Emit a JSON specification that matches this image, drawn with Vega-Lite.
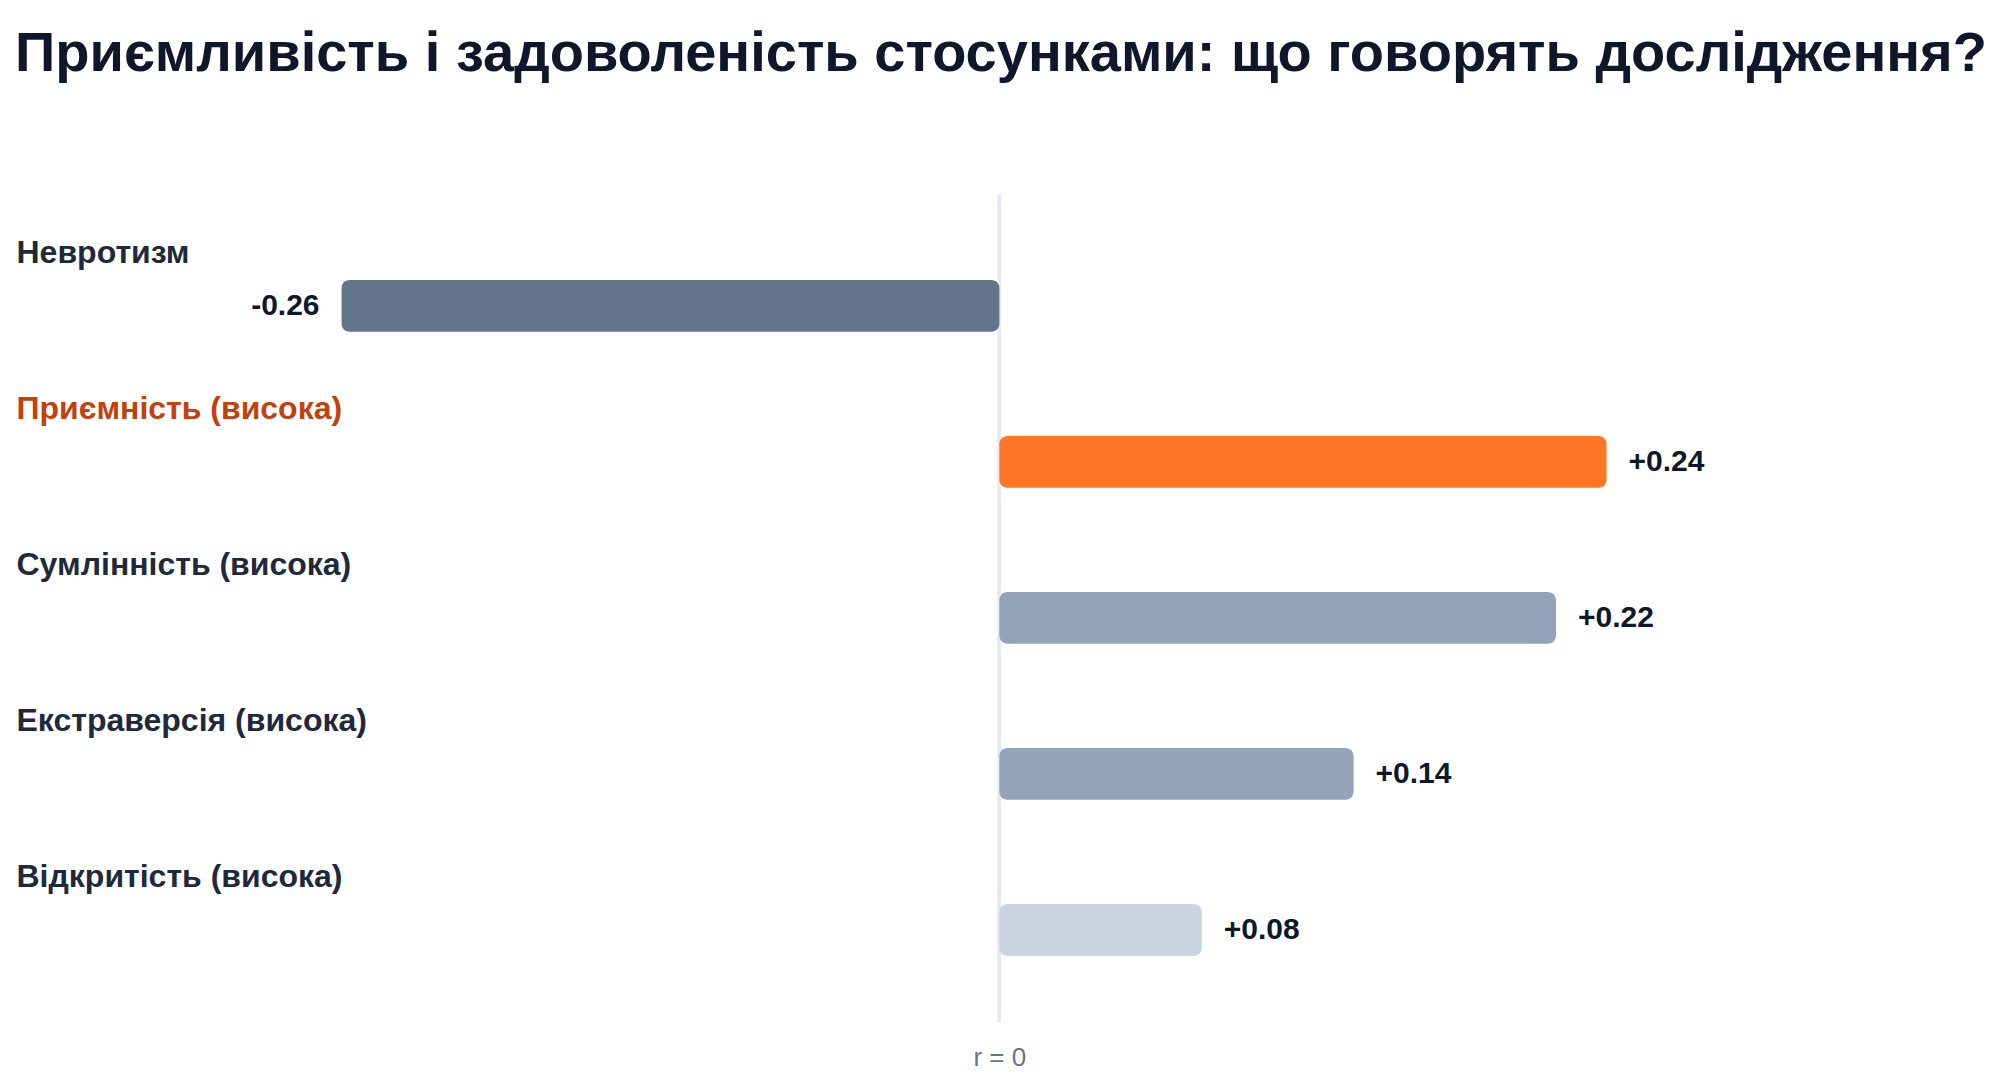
{
  "$schema": "https://vega.github.io/schema/vega-lite/v6.json",
  "width": 2000,
  "height": 827,
  "autosize": "none",
  "padding": {"left": 0, "top": 195, "right": 0, "bottom": 58},
  "background": "white",
  "config": {
    "view": {"stroke": null},
    "locale": {"number": {"decimal": ".", "thousands": ",", "grouping": [3], "currency": ["$", ""], "minus": "-"}}
  },
  "title": {
    "text": "Приємливість і задоволеність стосунками: що говорять дослідження?",
    "anchor": "start",
    "frame": "group",
    "dx": 15,
    "offset": 67,
    "baseline": "alphabetic",
    "font": "Liberation Sans",
    "fontSize": 56,
    "fontWeight": "bold",
    "color": "#0f172a"
  },
  "data": {
    "values": [
      {"trait": "Невротизм", "r": -0.26},
      {"trait": "Приємність (висока)", "r": 0.24},
      {"trait": "Сумлінність (висока)", "r": 0.22},
      {"trait": "Екстраверсія (висока)", "r": 0.14},
      {"trait": "Відкритість (висока)", "r": 0.08}
    ]
  },
  "encoding": {
    "y": {
      "field": "trait",
      "type": "nominal",
      "sort": null,
      "scale": {"paddingInner": 0, "paddingOuter": 0.1506, "align": 0.7},
      "axis": {
        "title": null,
        "domain": false,
        "ticks": false,
        "tickSize": 0,
        "labelAlign": "left",
        "labelBaseline": "alphabetic",
        "labelPadding": -16,
        "labelOffset": -43,
        "labelLimit": 0,
        "labelFont": "Liberation Sans",
        "labelFontSize": 32,
        "labelFontWeight": "bold",
        "labelColor": {"condition": {"test": "datum.value === 'Приємність (висока)'", "value": "#c2410c"}, "value": "#1e293b"}
      }
    }
  },
  "layer": [
    {
      "mark": {"type": "rule", "color": "#e2e8f0", "strokeWidth": 3},
      "encoding": {
        "x": {"datum": 0, "type": "quantitative"},
        "y": null
      }
    },
    {
      "mark": {"type": "bar", "cornerRadius": 8, "height": {"band": 0.333}},
      "encoding": {
        "x": {
          "field": "r",
          "type": "quantitative",
          "scale": {"domain": [-0.395, 0.3955], "nice": false, "zero": false},
          "axis": {
            "values": [0],
            "labelExpr": "'r = 0'",
            "title": null,
            "grid": false,
            "domain": false,
            "ticks": false,
            "tickSize": 0,
            "labelBaseline": "alphabetic",
            "labelPadding": 43,
            "labelFont": "Liberation Sans",
            "labelFontSize": 26,
            "labelColor": "#64748b"
          }
        },
        "x2": {"datum": 0},
        "color": {
          "field": "trait",
          "type": "nominal",
          "legend": null,
          "scale": {
            "domain": ["Невротизм", "Приємність (висока)", "Сумлінність (висока)", "Екстраверсія (висока)", "Відкритість (висока)"],
            "range": ["#64748b", "#ff7627", "#94a3b8", "#94a3b8", "#cbd5e1"]
          }
        }
      }
    },
    {
      "transform": [{"filter": "datum.r > 0"}],
      "mark": {"type": "text", "align": "left", "baseline": "middle", "dx": 22, "font": "Liberation Sans", "fontSize": 30, "fontWeight": "bold", "color": "#0f172a"},
      "encoding": {
        "x": {"field": "r", "type": "quantitative"},
        "text": {"field": "r", "type": "quantitative", "format": "+.2f"}
      }
    },
    {
      "transform": [{"filter": "datum.r < 0"}],
      "mark": {"type": "text", "align": "right", "baseline": "middle", "dx": -22, "font": "Liberation Sans", "fontSize": 30, "fontWeight": "bold", "color": "#0f172a"},
      "encoding": {
        "x": {"field": "r", "type": "quantitative"},
        "text": {"field": "r", "type": "quantitative", "format": ".2f"}
      }
    }
  ]
}
